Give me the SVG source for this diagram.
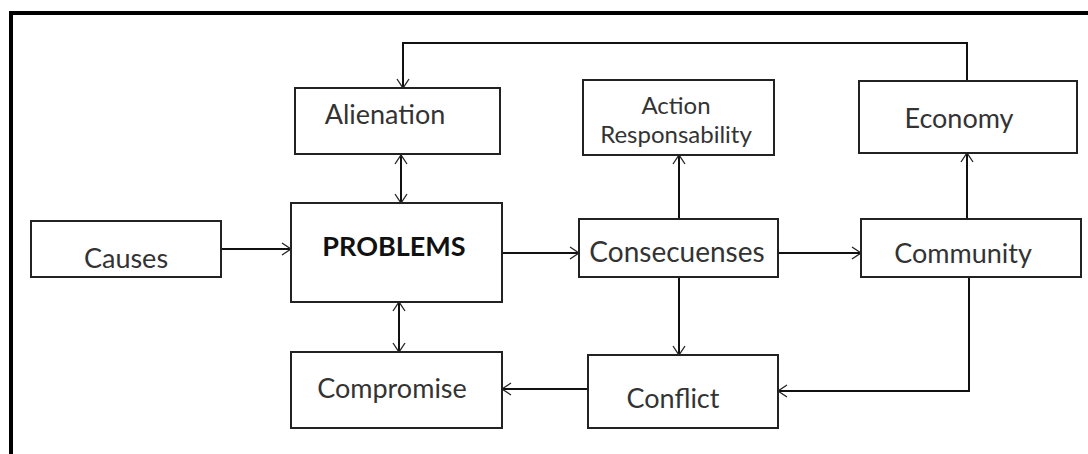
<svg xmlns="http://www.w3.org/2000/svg" width="1088" height="454" viewBox="0 0 1088 454">
<style>
.box{fill:#fff;stroke:#222;stroke-width:2}
.lbl{font-family:Lato,"Carlito","Open Sans",sans-serif;font-size:27px;fill:#333;text-anchor:middle}
.sm{font-size:24px}
.bold{font-weight:bold;fill:#111}
.con{fill:none;stroke:#111;stroke-width:2}
.frame{stroke:#000;stroke-width:4;fill:none}
</style>
<defs>
<marker id="ah" viewBox="-1 -8 12 16" refX="9" refY="0" markerWidth="12" markerHeight="16" markerUnits="userSpaceOnUse" orient="auto-start-reverse">
<path d="M0,-6 L9,0 L0,6" fill="none" stroke="#222" stroke-width="1.3"/>
</marker>
</defs>
<rect width="1088" height="454" fill="#fff"/>
<g id="frame">
<line class="frame" x1="9" y1="13" x2="1088" y2="13"/>
<line class="frame" x1="11" y1="11" x2="11" y2="454"/>
</g>
<g id="connectors">
<line class="con" x1="221" y1="249" x2="291" y2="249" marker-end="url(#ah)"/>
<line class="con" x1="502" y1="253" x2="579" y2="253" marker-end="url(#ah)"/>
<line class="con" x1="778" y1="253" x2="861" y2="253" marker-end="url(#ah)"/>
<line class="con" x1="679" y1="219" x2="679" y2="155" marker-end="url(#ah)"/>
<line class="con" x1="967" y1="219" x2="967" y2="153" marker-end="url(#ah)"/>
<polyline class="con" points="967,81 967,43 403,43 403,88" marker-end="url(#ah)"/>
<line class="con" x1="401" y1="155" x2="401" y2="203" marker-start="url(#ah)" marker-end="url(#ah)"/>
<line class="con" x1="399" y1="302" x2="399" y2="352" marker-start="url(#ah)" marker-end="url(#ah)"/>
<line class="con" x1="679" y1="277" x2="679" y2="355" marker-end="url(#ah)"/>
<polyline class="con" points="969,277 969,391 778,391" marker-end="url(#ah)"/>
<line class="con" x1="588" y1="389" x2="502" y2="389" marker-end="url(#ah)"/>
</g>
<g id="alienation">
<rect class="box" x="295" y="88" width="205" height="66"/>
<text class="lbl" x="385" y="124">Alienation</text>
</g>
<g id="action">
<rect class="box" x="583" y="80" width="191" height="75"/>
<text class="lbl sm" x="676" y="114">Action</text>
<text class="lbl sm" x="676" y="143">Responsability</text>
</g>
<g id="economy">
<rect class="box" x="859" y="81" width="218" height="72"/>
<text class="lbl" x="959" y="128">Economy</text>
</g>
<g id="causes">
<rect class="box" x="31" y="221" width="190" height="56"/>
<text class="lbl" x="126" y="268">Causes</text>
</g>
<g id="problems">
<rect class="box" x="291" y="203" width="211" height="99"/>
<text class="lbl bold" x="394" y="256">PROBLEMS</text>
</g>
<g id="consecuenses">
<rect class="box" x="579" y="219" width="199" height="58"/>
<text class="lbl" x="677" y="262" style="font-size:28px">Consecuenses</text>
</g>
<g id="community">
<rect class="box" x="861" y="219" width="220" height="58"/>
<text class="lbl" x="963" y="263">Community</text>
</g>
<g id="compromise">
<rect class="box" x="291" y="352" width="211" height="76"/>
<text class="lbl" x="392" y="398">Compromise</text>
</g>
<g id="conflict">
<rect class="box" x="588" y="355" width="190" height="73"/>
<text class="lbl" x="673" y="408">Conflict</text>
</g>
</svg>
